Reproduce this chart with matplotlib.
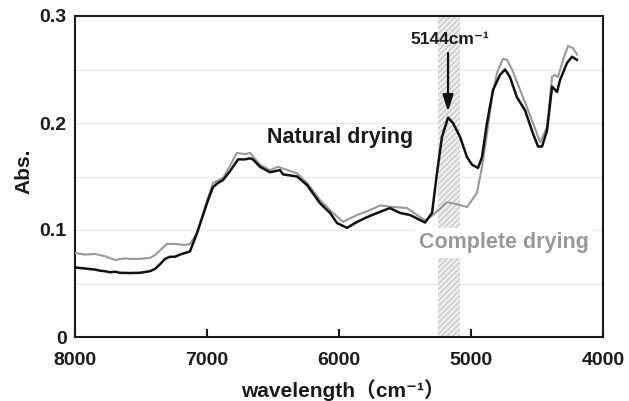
import matplotlib
matplotlib.use("Agg")
import matplotlib.pyplot as plt

# ---------------- data ----------------
natural_x = [8000, 7924, 7848, 7811, 7773, 7735, 7697, 7659, 7583, 7508, 7432, 7394,
             7356, 7318, 7280, 7242, 7205, 7167, 7129, 7076, 7030, 6992, 6955, 6917,
             6879, 6826, 6765, 6712, 6674, 6652, 6598, 6523, 6447, 6424, 6318, 6242,
             6144, 6068, 6015, 5939, 5864, 5788, 5689, 5614, 5538, 5462, 5348, 5295,
             5258, 5220, 5174, 5136, 5083, 5030, 4992, 4947, 4917, 4879, 4833, 4780,
             4742, 4705, 4652, 4591, 4530, 4492, 4462, 4424, 4386, 4348, 4326, 4273,
             4235, 4197]
natural_y = [0.065, 0.064, 0.063, 0.062, 0.0615, 0.0605, 0.061, 0.060, 0.0598, 0.060, 0.0615, 0.0636,
             0.068, 0.073, 0.075, 0.075, 0.077, 0.0785, 0.080, 0.097, 0.114, 0.128, 0.140, 0.144,
             0.1467, 0.155, 0.166, 0.166, 0.167, 0.166, 0.159, 0.154, 0.156, 0.152, 0.150, 0.142,
             0.125, 0.116, 0.1065, 0.102, 0.1075, 0.112, 0.117, 0.1205, 0.116, 0.114, 0.107, 0.116,
             0.153, 0.187, 0.205, 0.200, 0.187, 0.168, 0.161, 0.158, 0.168, 0.200, 0.231, 0.245,
             0.250, 0.243, 0.224, 0.212, 0.190, 0.178, 0.178, 0.193, 0.234, 0.229, 0.240, 0.256,
             0.262, 0.259]

complete_x = [8000, 7924, 7848, 7773, 7697, 7621, 7583, 7508, 7432, 7394, 7356, 7303,
              7242, 7167, 7129, 7076, 7015, 6955, 6879, 6826, 6773, 6712, 6674, 6598,
              6523, 6462, 6318, 6242, 6144, 6068, 5970, 5864, 5765, 5689, 5591, 5485,
              5409, 5348, 5288, 5182, 5106, 5030, 4955, 4917, 4879, 4841, 4803, 4758,
              4727, 4689, 4606, 4530, 4477, 4424, 4386, 4364, 4341, 4303, 4265, 4227,
              4197]
complete_y = [0.0785, 0.077, 0.0776, 0.0755, 0.072, 0.0735, 0.073, 0.073, 0.074, 0.0765, 0.081, 0.087,
              0.087, 0.086, 0.087, 0.097, 0.1215, 0.144, 0.1486, 0.160, 0.172, 0.171, 0.172, 0.161,
              0.156, 0.159, 0.153, 0.144, 0.128, 0.1186, 0.1075, 0.114, 0.1186, 0.123, 0.1215, 0.1205,
              0.114, 0.109, 0.114, 0.126, 0.124, 0.1215, 0.1346, 0.159, 0.190, 0.224, 0.247, 0.260,
              0.259, 0.250, 0.224, 0.200, 0.182, 0.196, 0.243, 0.245, 0.243, 0.259, 0.272, 0.270,
              0.264]

band = [5083, 5250]
peak_label = "5144cm⁻¹"
x_ticks = [8000, 7000, 6000, 5000, 4000]
y_ticks = [0, 0.1, 0.2, 0.3]
y_ticklabels = ["0", "0.1", "0.2", "0.3"]
grid_levels = [0.05, 0.1, 0.15, 0.2, 0.25]

# ---------------- style ----------------
FAM = ["Liberation Sans", "Noto Sans CJK JP", "DejaVu Sans"]
plt.rcParams["font.family"] = FAM
plt.rcParams["font.weight"] = "bold"
plt.rcParams["hatch.linewidth"] = 0.6

fig = plt.figure(figsize=(6.29, 4.01), dpi=100)
ax = fig.add_axes([75 / 629, 1 - 337 / 401, (603 - 75) / 629, (337 - 16) / 401])

ax.set_xlim(8000, 4000)
ax.set_ylim(0, 0.3)

for g in grid_levels:
    ax.axhline(g, color="#e9e9e9", lw=0.9, zorder=0)

ax.axvspan(band[0], band[1], facecolor="#ededed", edgecolor="#b8b8b8",
           hatch="//////", linewidth=0, zorder=1)

ax.plot(complete_x, complete_y, color="#999999", lw=1.5, zorder=3)
ax.plot(natural_x, natural_y, color="#111111", lw=1.8, zorder=4)

ax.text(5992, 0.186, "Natural drying", ha="center", va="center",
        fontsize=15.5, fontweight="bold", color="#1a1a1a", zorder=5)
ax.text(4750, 0.088, "Complete drying", ha="center", va="center",
        fontsize=15.5, fontweight="bold", color="#999999", zorder=5,
        bbox=dict(boxstyle="square,pad=0.2", facecolor="white", edgecolor="none"))
ax.text(5159, 0.2776, peak_label, ha="center", va="center",
        fontsize=12.5, fontweight="bold", color="#1a1a1a", zorder=5)
ax.annotate("", xy=(5174, 0.208), xytext=(5174, 0.268),
            arrowprops=dict(arrowstyle="-|>,head_length=1.0,head_width=0.32",
                            color="#111111", lw=1.6), zorder=5)

ax.set_xticks(x_ticks)
ax.set_xticklabels([str(v) for v in x_ticks])
ax.set_yticks(y_ticks)
ax.set_yticklabels(y_ticklabels)
ax.tick_params(axis="x", direction="in", length=6, width=1.5, pad=11,
               labelsize=14, colors="#1a1a1a")
ax.tick_params(axis="y", length=0, pad=6, labelsize=14, colors="#1a1a1a")
for lab in ax.get_xticklabels() + ax.get_yticklabels():
    lab.set_fontweight("bold")

for s in ax.spines.values():
    s.set_linewidth(1.5)
    s.set_color("#1a1a1a")

fig.text(24 / 629, 1 - 171 / 401, "Abs.", rotation=90, ha="center", va="center",
         fontsize=15, fontweight="bold", color="#1a1a1a")
fig.text(343 / 629, 1 - 390 / 401, "wavelength（cm⁻¹）", ha="center", va="center",
         fontsize=15, fontweight="bold", color="#1a1a1a")

fig.savefig("out.png", dpi=100)
